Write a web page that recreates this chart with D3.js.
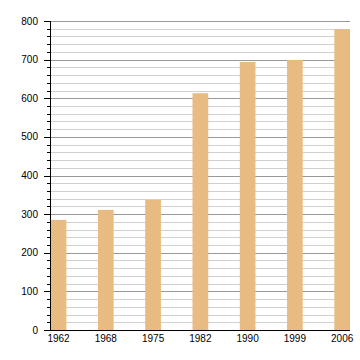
<!DOCTYPE html>
<html><head><meta charset="utf-8">
<script src="https://cdn.jsdelivr.net/npm/d3@7"></script>
<style>body{margin:0;background:#fff}svg{display:block}text{font-family:"Liberation Sans",Arial,sans-serif;font-size:10px;fill:#000}</style>
</head><body>
<script>
const years = ["1962","1968","1975","1982","1990","1999","2006"];
const values = [285, 311, 337, 613, 694, 699, 779];
const yTicks = [0,100,200,300,400,500,600,700,800];
const minorStep = 20;

(function(){
const W=360,H=360, mL=50, mR=350, mT=21, mB=330;
const svg=d3.select("body").append("svg").attr("width",W).attr("height",H);
const x=d3.scaleBand().domain(years).range([mL+0.7,mR]).paddingInner(0.668).paddingOuter(0);
const y=d3.scaleLinear().domain([0,800]).range([mB,mT]);
const minor=d3.range(0,801,minorStep);

svg.append("g").selectAll("line").data(minor.filter(v=>v>0)).join("line")
  .attr("x1",mL).attr("x2",mR)
  .attr("y1",d=>Math.round(y(d))+0.5).attr("y2",d=>Math.round(y(d))+0.5)
  .attr("stroke",d=>d%100===0?"#999":"#d0d0d0").attr("stroke-width",1);

svg.append("g").selectAll("rect").data(values).join("rect")
  .attr("x",(d,i)=>x(years[i])).attr("width",x.bandwidth())
  .attr("y",d=>y(d)).attr("height",d=>mB-y(d))
  .attr("fill","#e8bb82");

svg.append("g").selectAll("line").data(minor).join("line")
  .attr("x1",d=>d%100===0?44:47).attr("x2",mL)
  .attr("y1",d=>Math.round(y(d))+0.5).attr("y2",d=>Math.round(y(d))+0.5)
  .attr("stroke","#000");
svg.append("line").attr("x1",mL+0.5).attr("x2",mL+0.5).attr("y1",mT).attr("y2",mB+1).attr("stroke","#000");
svg.append("line").attr("x1",mL).attr("x2",mR).attr("y1",mB+0.5).attr("y2",mB+0.5).attr("stroke","#000");

svg.append("g").selectAll("text").data(yTicks).join("text")
  .attr("x",38).attr("y",d=>y(d)).attr("dy","0.35em").attr("text-anchor","end").text(d=>d);
svg.append("g").selectAll("text").data(years).join("text")
  .attr("x",d=>x(d)+x.bandwidth()/2).attr("y",342).attr("text-anchor","middle").text(d=>d);
})();
</script>
</body></html>
